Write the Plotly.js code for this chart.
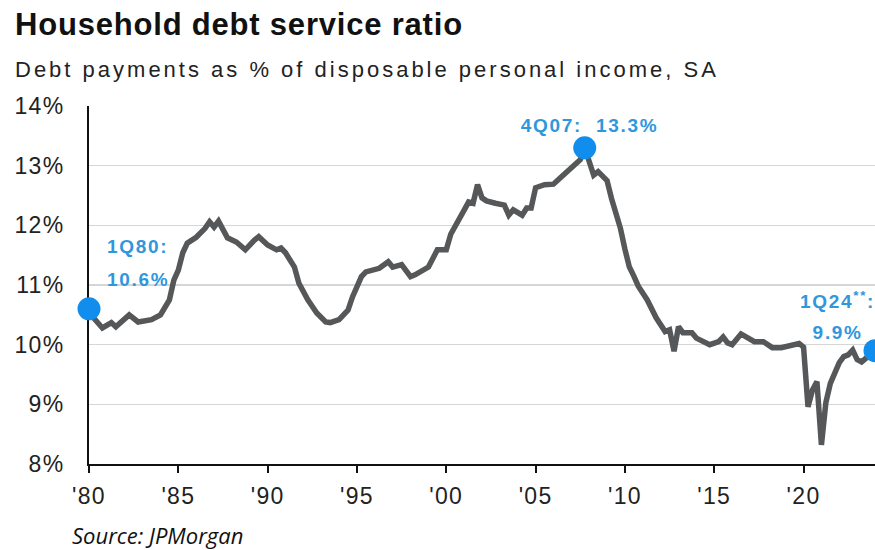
<!DOCTYPE html>
<html>
<head>
<meta charset="utf-8">
<script src="https://cdn.plot.ly/plotly-3.0.1.min.js"></script>
<style>
  html, body { margin: 0; padding: 0; background: #fff; }
  #chart { width: 875px; height: 550px; }
  .ytick text, .xtick text { letter-spacing: 1.3px; }
  .annotation[data-index="0"] text { letter-spacing: 0.8px; }
  .annotation[data-index="1"] text { letter-spacing: 3.0px; }
  .annotation[data-index="3"] text, .annotation[data-index="4"] text,
  .annotation[data-index="5"] text, .annotation[data-index="6"] text,
  .annotation[data-index="7"] text { letter-spacing: 1.7px; }
</style>
</head>
<body>
<div id="chart"></div>
<script>
// Quarter positions as decimal years and debt service ratio (%)
const years = [1980.00,1980.25,1980.75,1981.25,1981.50,1982.00,1982.25,1982.75,1983.50,1984.00,1984.50,1984.75,1985.00,1985.25,1985.50,1986.00,1986.50,1986.75,1987.00,1987.25,1987.50,1987.75,1988.25,1988.75,1989.25,1989.50,1990.00,1990.50,1990.75,1991.00,1991.50,1991.75,1992.25,1992.75,1993.25,1993.50,1994.00,1994.50,1994.75,1995.25,1995.50,1996.00,1996.25,1996.75,1997.00,1997.50,1998.00,1998.25,1999.00,1999.50,2000.00,2000.25,2000.75,2001.25,2001.50,2001.75,2002.00,2002.25,2002.75,2003.25,2003.50,2003.75,2004.25,2004.50,2004.75,2005.00,2005.50,2006.00,2006.25,2006.75,2007.25,2007.50,2007.75,2008.25,2008.50,2009.00,2009.25,2009.50,2009.75,2010.00,2010.25,2010.50,2010.75,2011.25,2011.50,2011.75,2012.25,2012.50,2012.75,2013.00,2013.25,2013.75,2014.00,2014.50,2014.75,2015.25,2015.50,2015.75,2016.00,2016.50,2017.00,2017.25,2017.75,2018.25,2018.75,2019.25,2019.75,2020.00,2020.25,2020.50,2020.75,2021.00,2021.25,2021.50,2021.75,2022.00,2022.25,2022.50,2022.75,2023.00,2023.25,2023.50,2023.75,2024.00];
const dsr = [10.60,10.45,10.28,10.37,10.30,10.45,10.50,10.38,10.42,10.50,10.75,11.08,11.25,11.54,11.70,11.80,11.95,12.06,11.97,12.07,11.95,11.79,11.72,11.59,11.75,11.81,11.67,11.59,11.62,11.54,11.30,11.03,10.75,10.53,10.38,10.37,10.42,10.58,10.80,11.14,11.22,11.25,11.28,11.39,11.30,11.34,11.14,11.17,11.30,11.59,11.59,11.85,12.10,12.39,12.37,12.68,12.46,12.41,12.37,12.34,12.17,12.26,12.17,12.29,12.29,12.63,12.68,12.69,12.76,12.90,13.04,13.10,13.30,12.84,12.90,12.75,12.45,12.22,11.95,11.60,11.30,11.15,10.98,10.75,10.60,10.45,10.22,10.25,9.89,10.30,10.20,10.20,10.11,10.05,10.00,10.05,10.13,10.03,10.00,10.18,10.10,10.05,10.05,9.95,9.95,9.98,10.02,9.96,8.96,9.24,9.38,8.32,9.03,9.35,9.55,9.70,9.80,9.83,9.91,9.75,9.71,9.78,9.86,9.90];

// Highlighted points
const hlYears = [1980.00, 2007.75, 2024.00];
const hlValues = [10.6, 13.3, 9.9];

// Tick labels
const xTickVals = [1980,1985,1990,1995,2000,2005,2010,2015,2020];
const xTickText = ["'80","'85","'90","'95","'00","'05","'10","'15","'20"];
const yTickVals = [8,9,10,11,12,13,14];
const yTickText = ["8%","9%","10%","11%","12%","13%","14%"];

const blueText = '#2f97dc';
const annFont = {family: 'Liberation Sans, Arial, sans-serif', size: 19, color: blueText, weight: 'bold'};

const traces = [
  {
    x: years, y: dsr, type: 'scatter', mode: 'lines',
    line: {color: '#555759', width: 5.5},
    hoverinfo: 'skip'
  },
  {
    x: hlYears, y: hlValues, type: 'scatter', mode: 'markers',
    marker: {color: '#108ded', size: 23},
    cliponaxis: false,
    hoverinfo: 'skip'
  }
];

const layout = {
  width: 875, height: 550,
  margin: {l: 89, r: 0, t: 106, b: 86},
  paper_bgcolor: '#fff', plot_bgcolor: '#fff',
  showlegend: false,
  font: {family: 'Liberation Sans, Arial, sans-serif', color: '#222'},
  xaxis: {
    range: [1980, 2024],
    tickvals: xTickVals, ticktext: xTickText,
    ticks: 'outside', ticklen: 7, tickwidth: 2, tickcolor: '#111',
    showline: true, linecolor: '#111', linewidth: 2,
    showgrid: false, zeroline: false,
    tickfont: {size: 23, color: '#222'},
    ticklabelstandoff: 3,
    layer: 'below traces',
    fixedrange: true
  },
  yaxis: {
    range: [8, 14],
    tickvals: yTickVals, ticktext: yTickText,
    ticks: '',
    showline: true, linecolor: '#111', linewidth: 2,
    showgrid: true, gridcolor: '#d6d6d6', gridwidth: 1.5,
    zeroline: false,
    tickfont: {size: 23, color: '#222'},
    ticklabelstandoff: 18,
    layer: 'below traces',
    fixedrange: true
  },
  annotations: [
    {text: 'Household debt service ratio', xref: 'paper', yref: 'paper',
     x: -0.0967, y: 1.229, xanchor: 'left', yanchor: 'middle', align: 'left', showarrow: false,
     font: {family: 'Liberation Sans, Arial, sans-serif', size: 31, color: '#111', weight: 'bold'}},
    {text: 'Debt payments as % of disposable personal income, SA', xref: 'paper', yref: 'paper',
     x: -0.0967, y: 1.102, xanchor: 'left', yanchor: 'middle', align: 'left', showarrow: false,
     font: {family: 'Liberation Sans, Arial, sans-serif', size: 22, color: '#222'}},
    {text: '<i>Source: JPMorgan</i>', xref: 'paper', yref: 'paper',
     x: -0.0242, y: -0.198, xanchor: 'left', yanchor: 'middle', align: 'left', showarrow: false,
     font: {family: 'Open Sans, sans-serif', size: 22, color: '#111'}},
    {text: '1Q80:', xref: 'x', yref: 'y', x: 1980.9, y: 11.64,
     xanchor: 'left', yanchor: 'middle', align: 'left', showarrow: false, font: annFont},
    {text: '10.6%', xref: 'x', yref: 'y', x: 1980.9, y: 11.10,
     xanchor: 'left', yanchor: 'middle', align: 'left', showarrow: false, font: annFont},
    {text: '4Q07:&nbsp; 13.3%', xref: 'x', yref: 'y', x: 2008.0, y: 13.68,
     xanchor: 'center', yanchor: 'middle', showarrow: false, font: annFont},
    {text: '1Q24<sup>**</sup>:', xref: 'x', yref: 'y', x: 2021.9, y: 10.75,
     xanchor: 'center', yanchor: 'middle', showarrow: false, font: annFont},
    {text: '9.9%', xref: 'x', yref: 'y', x: 2021.9, y: 10.21,
     xanchor: 'center', yanchor: 'middle', showarrow: false, font: annFont}
  ]
};

Plotly.newPlot('chart', traces, layout, {displayModeBar: false, staticPlot: true});
</script>
</body>
</html>
